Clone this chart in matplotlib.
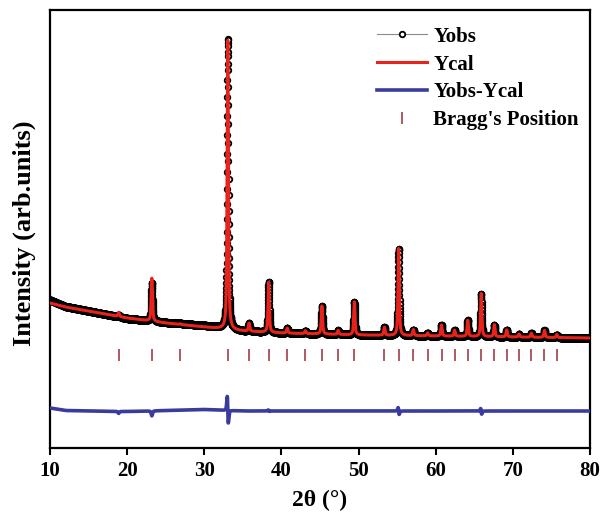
import numpy as np
import matplotlib
matplotlib.use("Agg")
import matplotlib.pyplot as plt

plt.rcParams['font.family'] = ['Liberation Serif', 'DejaVu Serif']
plt.rcParams['font.weight'] = 'bold'

# background (counts)
bg_x = [10, 12, 15, 20, 25, 30, 35, 40, 45, 50, 60, 70, 80]
bg_y = [2900, 2820, 2740, 2600, 2500, 2420, 2340, 2300, 2280, 2260, 2240, 2220, 2200]
bg_resid = [60, 10, 0, -10, 10, 30, 0, 0, 0, 0, 0, 0, 0]   # obs - cal on the background

# Bragg positions (2theta) and peak heights above background
bragg_pos = [18.9, 23.2, 26.9, 33.05, 35.8, 38.35, 40.75, 43.1, 45.25, 47.35, 49.45,
             53.35, 55.2, 57.1, 58.95, 60.75, 62.45, 64.15, 65.9, 67.6, 69.2, 70.8,
             72.4, 74.1, 75.7]
h_cal = [80, 860, 15, 5780, 160, 1000, 100, 60, 560, 80, 660,
         160, 1740, 120, 60, 220, 120, 320, 860, 240, 140, 60,
         80, 140, 60]
h_obs = [40, 760, 15, 5800, 160, 1010, 100, 60, 560, 80, 660,
         160, 1740, 120, 60, 220, 120, 320, 850, 240, 140, 60,
         80, 140, 60]
obs_shift = [0, 0, 0, -0.007, 0, -0.002, 0, 0, 0, 0, 0,
             0, -0.006, 0, 0, 0, 0, 0, -0.01, 0, 0, 0,
             0, 0, 0]
fwhm = 0.2
diff_offset = 740
tick_level = 1870


def pvoigt(x, x0, h, w, eta=0.6):
    d = (x - x0) / (w / 2)
    return h * (eta / (1 + d ** 2) + (1 - eta) * np.exp(-np.log(2) * d ** 2))


tt = np.arange(10, 80.001, 0.01)
ycal = np.interp(tt, bg_x, bg_y)
yobs = np.interp(tt, bg_x, np.array(bg_y) + np.array(bg_resid))
for p, hc, ho, s in zip(bragg_pos, h_cal, h_obs, obs_shift):
    ycal = ycal + pvoigt(tt, p, hc, fwhm)
    yobs = yobs + pvoigt(tt, p + s, ho, fwhm)
ydiff = yobs - ycal + diff_offset

fig = plt.figure(figsize=(6.03, 5.13), dpi=100)
ax = fig.add_axes([50 / 603, 65 / 513, 540 / 603, 438 / 513])

ax.plot(tt, yobs, color='#8a8a8a', lw=0.8, marker='o', ms=4, mfc='white',
        mec='black', mew=1.3, label='Yobs', zorder=2)
ax.plot(tt, ycal, color='#e8231c', lw=2.2, label='Ycal', zorder=3)
ax.plot(tt, ydiff, color='#3b3b9e', lw=2.6, label='Yobs-Ycal', zorder=3)
ax.plot(bragg_pos, [tick_level] * len(bragg_pos), ls='none', marker='|', ms=8,
        mew=1.2, color='#a33c4a', label="Bragg's Position")

ax.set_xlim(10, 80)
ax.set_ylim(0, 8760)
ax.set_xticks(range(10, 81, 10))
ax.set_yticks([])
ax.tick_params(axis='x', direction='out', length=5, width=1.5, labelsize=15, pad=4)
for sp in ax.spines.values():
    sp.set_linewidth(1.6)

ax.set_xlabel('2θ (°)', fontsize=17, fontweight='bold')
ax.xaxis.set_label_coords(0.5, -0.095)
ax.set_ylabel('Intensity (arb.units)', fontsize=19, fontweight='bold')
ax.yaxis.set_label_coords(-0.026, 0.49)

ax.legend(loc='upper left', bbox_to_anchor=(0.6056, 0.962), frameon=False,
          fontsize=15, handlelength=2.4, handletextpad=0.3, labelspacing=0.38,
          borderpad=0, borderaxespad=0)

fig.savefig('out.png', dpi=100)
